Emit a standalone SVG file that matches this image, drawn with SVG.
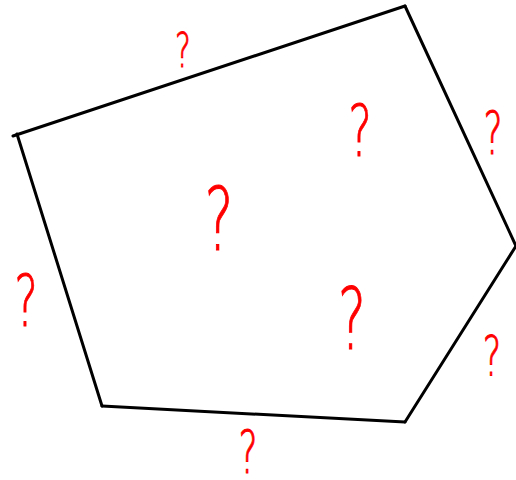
<svg xmlns="http://www.w3.org/2000/svg" width="516" height="480" viewBox="0 0 516 480">
<style>
.edge{fill:none;stroke:#000;stroke-width:3;stroke-linecap:round;stroke-linejoin:round}
.q{fill:#f00;stroke:#f00;stroke-width:1;font-family:"DejaVu Sans","Liberation Sans",sans-serif;font-weight:200;text-anchor:middle}
</style>
<rect width="516" height="480" fill="#fff"/>
<g id="connectors">
<path class="edge" d="M13,136 L405,6"/>
<path class="edge" d="M405,6 L516,246"/>
<path class="edge" d="M516,246 L405,422"/>
<path class="edge" d="M405,422 L102,406"/>
<path class="edge" d="M102,406 L17,134"/>
</g>
<g id="node-center"><text class="q" transform="translate(219,250) scale(0.62,1)" font-size="88">?</text></g>
<g id="node-upper"><text class="q" transform="translate(360,156) scale(0.62,1)" font-size="72">?</text></g>
<g id="node-lower"><text class="q" transform="translate(352,349) scale(0.62,1)" font-size="86">?</text></g>
<g id="edge-top"><text class="q" transform="translate(183,67) scale(0.62,1)" font-size="48">?</text></g>
<g id="edge-right-upper"><text class="q" transform="translate(493,154) scale(0.62,1)" font-size="58">?</text></g>
<g id="edge-left"><text class="q" transform="translate(26,326) scale(0.62,1)" font-size="72">?</text></g>
<g id="edge-right-lower"><text class="q" transform="translate(492,375) scale(0.62,1)" font-size="56">?</text></g>
<g id="edge-bottom"><text class="q" transform="translate(248,473) scale(0.62,1)" font-size="58">?</text></g>
</svg>
